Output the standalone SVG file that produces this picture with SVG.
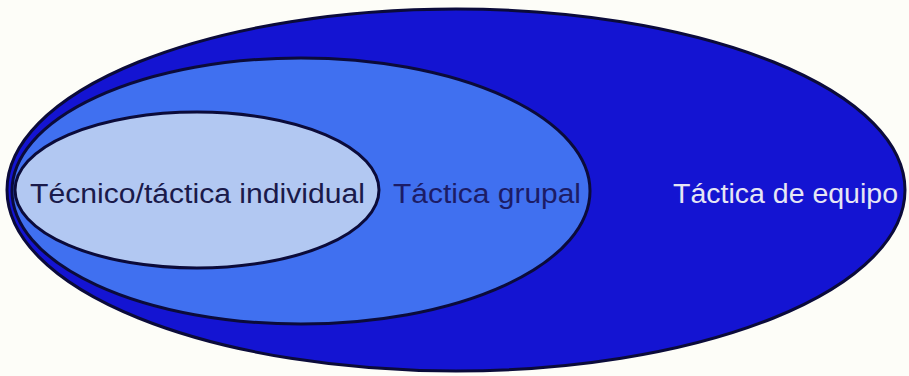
<svg xmlns="http://www.w3.org/2000/svg" width="909" height="376" viewBox="0 0 909 376">
<style>
.ell{stroke:#0b0b3a;stroke-width:3}
.lbl{font-family:"Liberation Sans","DejaVu Sans",sans-serif;font-size:27px}
</style>
<rect width="909" height="376" fill="#fdfdf8"/>
<g id="equipo">
<ellipse class="ell" cx="456" cy="190" rx="449" ry="181" fill="#1414d2"/>
<text class="lbl" x="673" y="203" fill="#e6e6f4" textLength="225" lengthAdjust="spacingAndGlyphs">Táctica de equipo</text>
</g>
<g id="grupal">
<ellipse class="ell" cx="301" cy="191" rx="289" ry="133" fill="#4070f0"/>
<text class="lbl" x="393" y="203" fill="#1c1c66" textLength="188" lengthAdjust="spacingAndGlyphs">Táctica grupal</text>
</g>
<g id="individual">
<ellipse class="ell" cx="197" cy="190" rx="182" ry="78" fill="#b2c8f2"/>
<text class="lbl" x="30" y="203" fill="#1a1a4a" textLength="335" lengthAdjust="spacingAndGlyphs">Técnico/táctica individual</text>
</g>
<g id="connectors"/>
</svg>
